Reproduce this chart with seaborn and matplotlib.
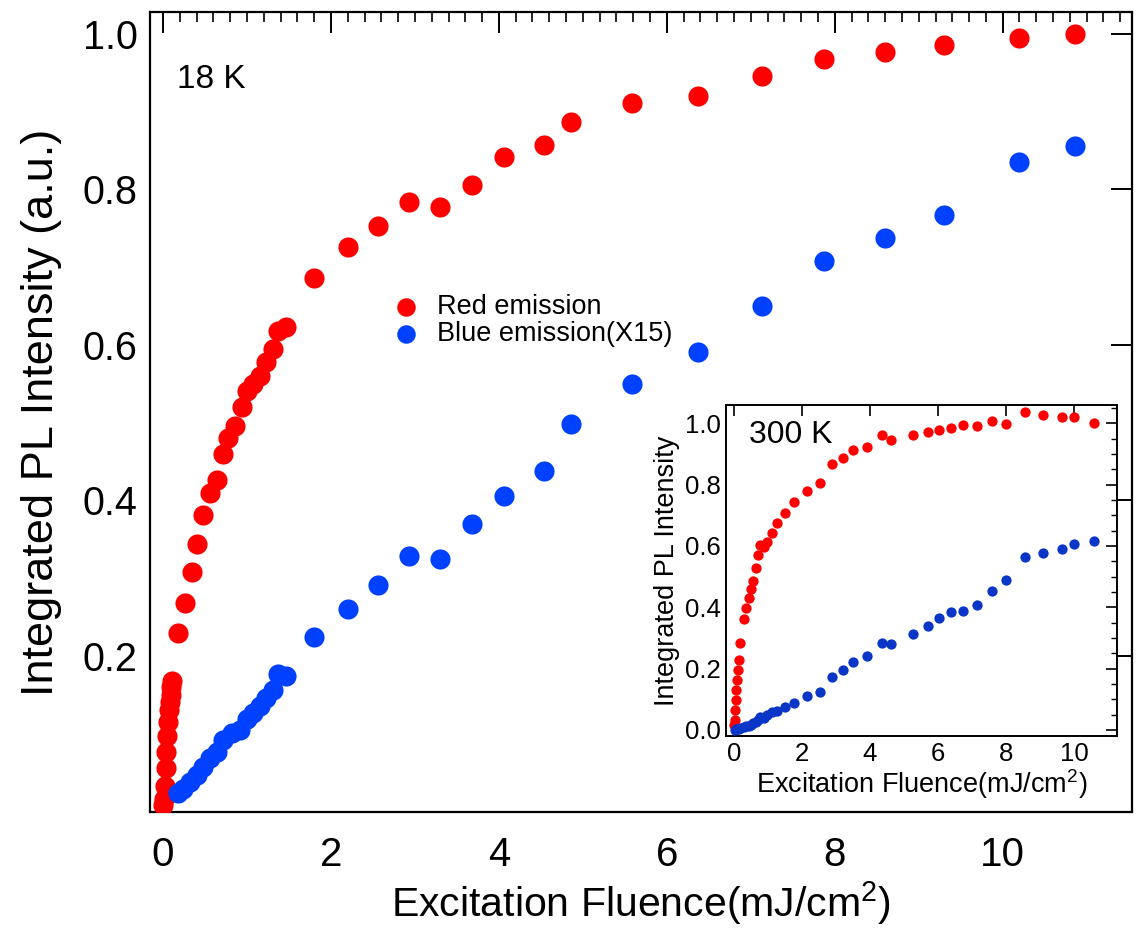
import numpy as np
import pandas as pd
import matplotlib
matplotlib.use("Agg")
import matplotlib.pyplot as plt
from matplotlib.ticker import MultipleLocator, FixedLocator
import seaborn as sns

# ---------------- data: 18 K (main) ----------------
red18_x = [10.86, 10.2, 9.30, 8.60, 7.87, 7.13, 6.37, 5.58, 4.86, 4.54, 4.06, 3.68,
           3.30, 2.93, 2.56, 2.20, 1.80,
           1.47, 1.37, 1.31, 1.23, 1.155, 1.075, 0.996, 0.937, 0.857, 0.778, 0.718,
           0.639, 0.56, 0.48, 0.408, 0.341, 0.262, 0.182,
           0.11, 0.10, 0.09, 0.08, 0.07, 0.06, 0.05, 0.04, 0.03, 0.02, 0.01, 0.005]
red18_y = [1.0, 0.995, 0.985, 0.977, 0.968, 0.946, 0.920, 0.911, 0.887, 0.857, 0.842, 0.805,
           0.777, 0.783, 0.753, 0.726, 0.686,
           0.623, 0.618, 0.595, 0.578, 0.560, 0.550, 0.540, 0.520, 0.495, 0.480, 0.459,
           0.426, 0.409, 0.381, 0.344, 0.308, 0.268, 0.229,
           0.167, 0.160, 0.150, 0.140, 0.130, 0.115, 0.097, 0.076, 0.055, 0.033, 0.016, 0.008]
blue18_x = [10.86, 10.2, 9.30, 8.60, 7.87, 7.13, 6.37, 5.58, 4.86, 4.54, 4.06, 3.68,
            3.30, 2.93, 2.56, 2.20, 1.80,
            1.47, 1.37, 1.31, 1.23, 1.155, 1.075, 0.996, 0.917, 0.818, 0.718,
            0.639, 0.56, 0.48, 0.40, 0.32, 0.24, 0.18]
blue18_y = [0.855, 0.835, 0.767, 0.737, 0.708, 0.650, 0.591, 0.550, 0.498, 0.437, 0.405, 0.369,
            0.325, 0.328, 0.291, 0.260, 0.224,
            0.174, 0.176, 0.156, 0.145, 0.135, 0.126, 0.119, 0.104, 0.100, 0.091,
            0.076, 0.068, 0.057, 0.046, 0.038, 0.029, 0.023]

# ---------------- data: 300 K (inset) ----------------
red300_x = [10.59, 10.0, 9.65, 9.09, 8.55, 8.01, 7.59, 7.13, 6.74, 6.37, 6.02, 5.69,
            5.26, 4.61, 4.35, 3.92, 3.50, 3.19, 2.88, 2.52, 2.15, 1.76, 1.51, 1.26,
            1.13, 0.98, 0.88, 0.77, 0.71, 0.64, 0.56, 0.49, 0.43, 0.36, 0.29, 0.17,
            0.14, 0.12, 0.09, 0.07, 0.05, 0.04, 0.02, 0.01]
red300_y = [1.002, 1.022, 1.022, 1.029, 1.037, 0.997, 1.008, 0.992, 0.995, 0.986, 0.978, 0.973,
            0.961, 0.945, 0.962, 0.922, 0.912, 0.888, 0.866, 0.804, 0.780, 0.742, 0.709, 0.676,
            0.643, 0.614, 0.598, 0.603, 0.571, 0.529, 0.486, 0.460, 0.429, 0.397, 0.361, 0.285,
            0.228, 0.196, 0.163, 0.130, 0.098, 0.065, 0.033, 0.016]
blue300_x = [10.59, 10.0, 9.65, 9.09, 8.55, 8.01, 7.59, 7.13, 6.74, 6.37, 6.02, 5.69,
             5.26, 4.61, 4.35, 3.92, 3.50, 3.19, 2.88, 2.52, 2.15, 1.76, 1.51, 1.26,
             1.13, 0.98, 0.88, 0.77, 0.71, 0.64, 0.56, 0.49, 0.43, 0.36, 0.29, 0.17,
             0.14, 0.09, 0.05, 0.02]
blue300_y = [0.616, 0.605, 0.589, 0.576, 0.563, 0.489, 0.454, 0.408, 0.388, 0.384, 0.366, 0.339,
             0.312, 0.280, 0.283, 0.241, 0.222, 0.196, 0.174, 0.125, 0.109, 0.087, 0.076, 0.063,
             0.057, 0.049, 0.040, 0.043, 0.033, 0.027, 0.022, 0.016, 0.013, 0.011, 0.009, 0.005,
             0.004, 0.003, 0.002, 0.001]

main_yticks = [0.2, 0.4, 0.6, 0.8, 1.0]
main_xticks = [0, 2, 4, 6, 8, 10]
inset_yticks = [0.0, 0.2, 0.4, 0.6, 0.8, 1.0]

RED = "#FF0000"
BLUE = "#0040FF"
BLUE_IN = "#0A36C8"

sns.set_theme(style="white")
plt.rcParams["font.family"] = ["Liberation Sans", "DejaVu Sans"]
plt.rcParams["mathtext.default"] = "regular"
for k in ["text.color", "axes.labelcolor", "xtick.color", "ytick.color", "axes.edgecolor"]:
    plt.rcParams[k] = "black"

fig = plt.figure(figsize=(11.37, 9.30), dpi=100)
ax = fig.add_axes([150/1137, 1-812/930, (1132-150)/1137, (812-12)/930])

df_r = pd.DataFrame({"x": red18_x, "y": red18_y})
df_b = pd.DataFrame({"x": blue18_x, "y": blue18_y})
sns.scatterplot(data=df_r, x="x", y="y", ax=ax, color=RED, s=210, linewidth=0,
                label="Red emission", zorder=3)
sns.scatterplot(data=df_b, x="x", y="y", ax=ax, color=BLUE, s=210, linewidth=0,
                label="Blue emission(X15)", zorder=3)

ax.set_xlim(-0.155, 11.54)
ax.set_ylim(-0.001, 1.028)
ax.xaxis.set_major_locator(FixedLocator(main_xticks))
ax.xaxis.set_minor_locator(MultipleLocator(0.2))
ax.yaxis.set_major_locator(FixedLocator(main_yticks))
ax.set_xticklabels([str(v) for v in main_xticks], fontsize=29)
ax.set_yticklabels([f"{v:.1f}" for v in main_yticks], fontsize=28.5)
ax.tick_params(axis="both", which="both", direction="in", top=True, right=True,
               color="black", labelcolor="black")
ax.tick_params(axis="both", which="major", length=15, width=1.4)
ax.tick_params(axis="x", which="major", pad=17)
ax.tick_params(axis="y", which="major", pad=9)
ax.tick_params(axis="x", which="minor", length=7, width=1.2)
for sp in ax.spines.values():
    sp.set_visible(True)
    sp.set_color("black")
    sp.set_linewidth(1.6)
ax.set_xlabel("Excitation Fluence(mJ/cm$^{2}$)", fontsize=29.5, labelpad=4)
ax.set_ylabel("Integrated PL Intensity (a.u.)", fontsize=32.5, labelpad=15)
ax.text(0.028, 0.915, "18 K", transform=ax.transAxes, fontsize=24, va="center", ha="left")

leg = ax.legend(loc="upper left", bbox_to_anchor=(0.2332, 0.664), frameon=False,
                fontsize=19.5, handletextpad=0.65, borderpad=0, labelspacing=0.02,
                markerscale=0.92, handlelength=1.0)

# ---------------- inset ----------------
axi = fig.add_axes([726/1137, 1-736/930, (1117-726)/1137, (736-405)/930])
df_r3 = pd.DataFrame({"x": red300_x, "y": red300_y})
df_b3 = pd.DataFrame({"x": blue300_x, "y": blue300_y})
sns.scatterplot(data=df_r3, x="x", y="y", ax=axi, color=RED, s=55, linewidth=0,
                legend=False, zorder=3)
sns.scatterplot(data=df_b3, x="x", y="y", ax=axi, color=BLUE_IN, s=55, linewidth=0,
                legend=False, zorder=3)
axi.set_xlim(-0.235, 11.26)
axi.set_ylim(-0.02, 1.06)
axi.xaxis.set_major_locator(FixedLocator(main_xticks))
axi.yaxis.set_major_locator(FixedLocator(inset_yticks))
axi.yaxis.set_minor_locator(MultipleLocator(0.05))
axi.set_xticklabels([str(v) for v in main_xticks])
axi.set_yticklabels([f"{v:.1f}" for v in inset_yticks])
axi.tick_params(axis="both", which="both", direction="in", top=True, right=True,
                color="black", labelcolor="black")
axi.tick_params(axis="both", which="major", length=8, width=1.2, labelsize=18.5, pad=4)
axi.tick_params(axis="y", which="minor", length=4, width=1.0)
for sp in axi.spines.values():
    sp.set_visible(True)
    sp.set_color("black")
    sp.set_linewidth(1.4)
axi.set_xlabel("Excitation Fluence(mJ/cm$^{2}$)", fontsize=19.5, labelpad=1)
axi.set_ylabel("Integrated PL Intensity", fontsize=19.5, labelpad=3)
axi.text(0.06, 0.91, "300 K", transform=axi.transAxes, fontsize=23, va="center", ha="left")

fig.savefig("out.png", dpi=100)
